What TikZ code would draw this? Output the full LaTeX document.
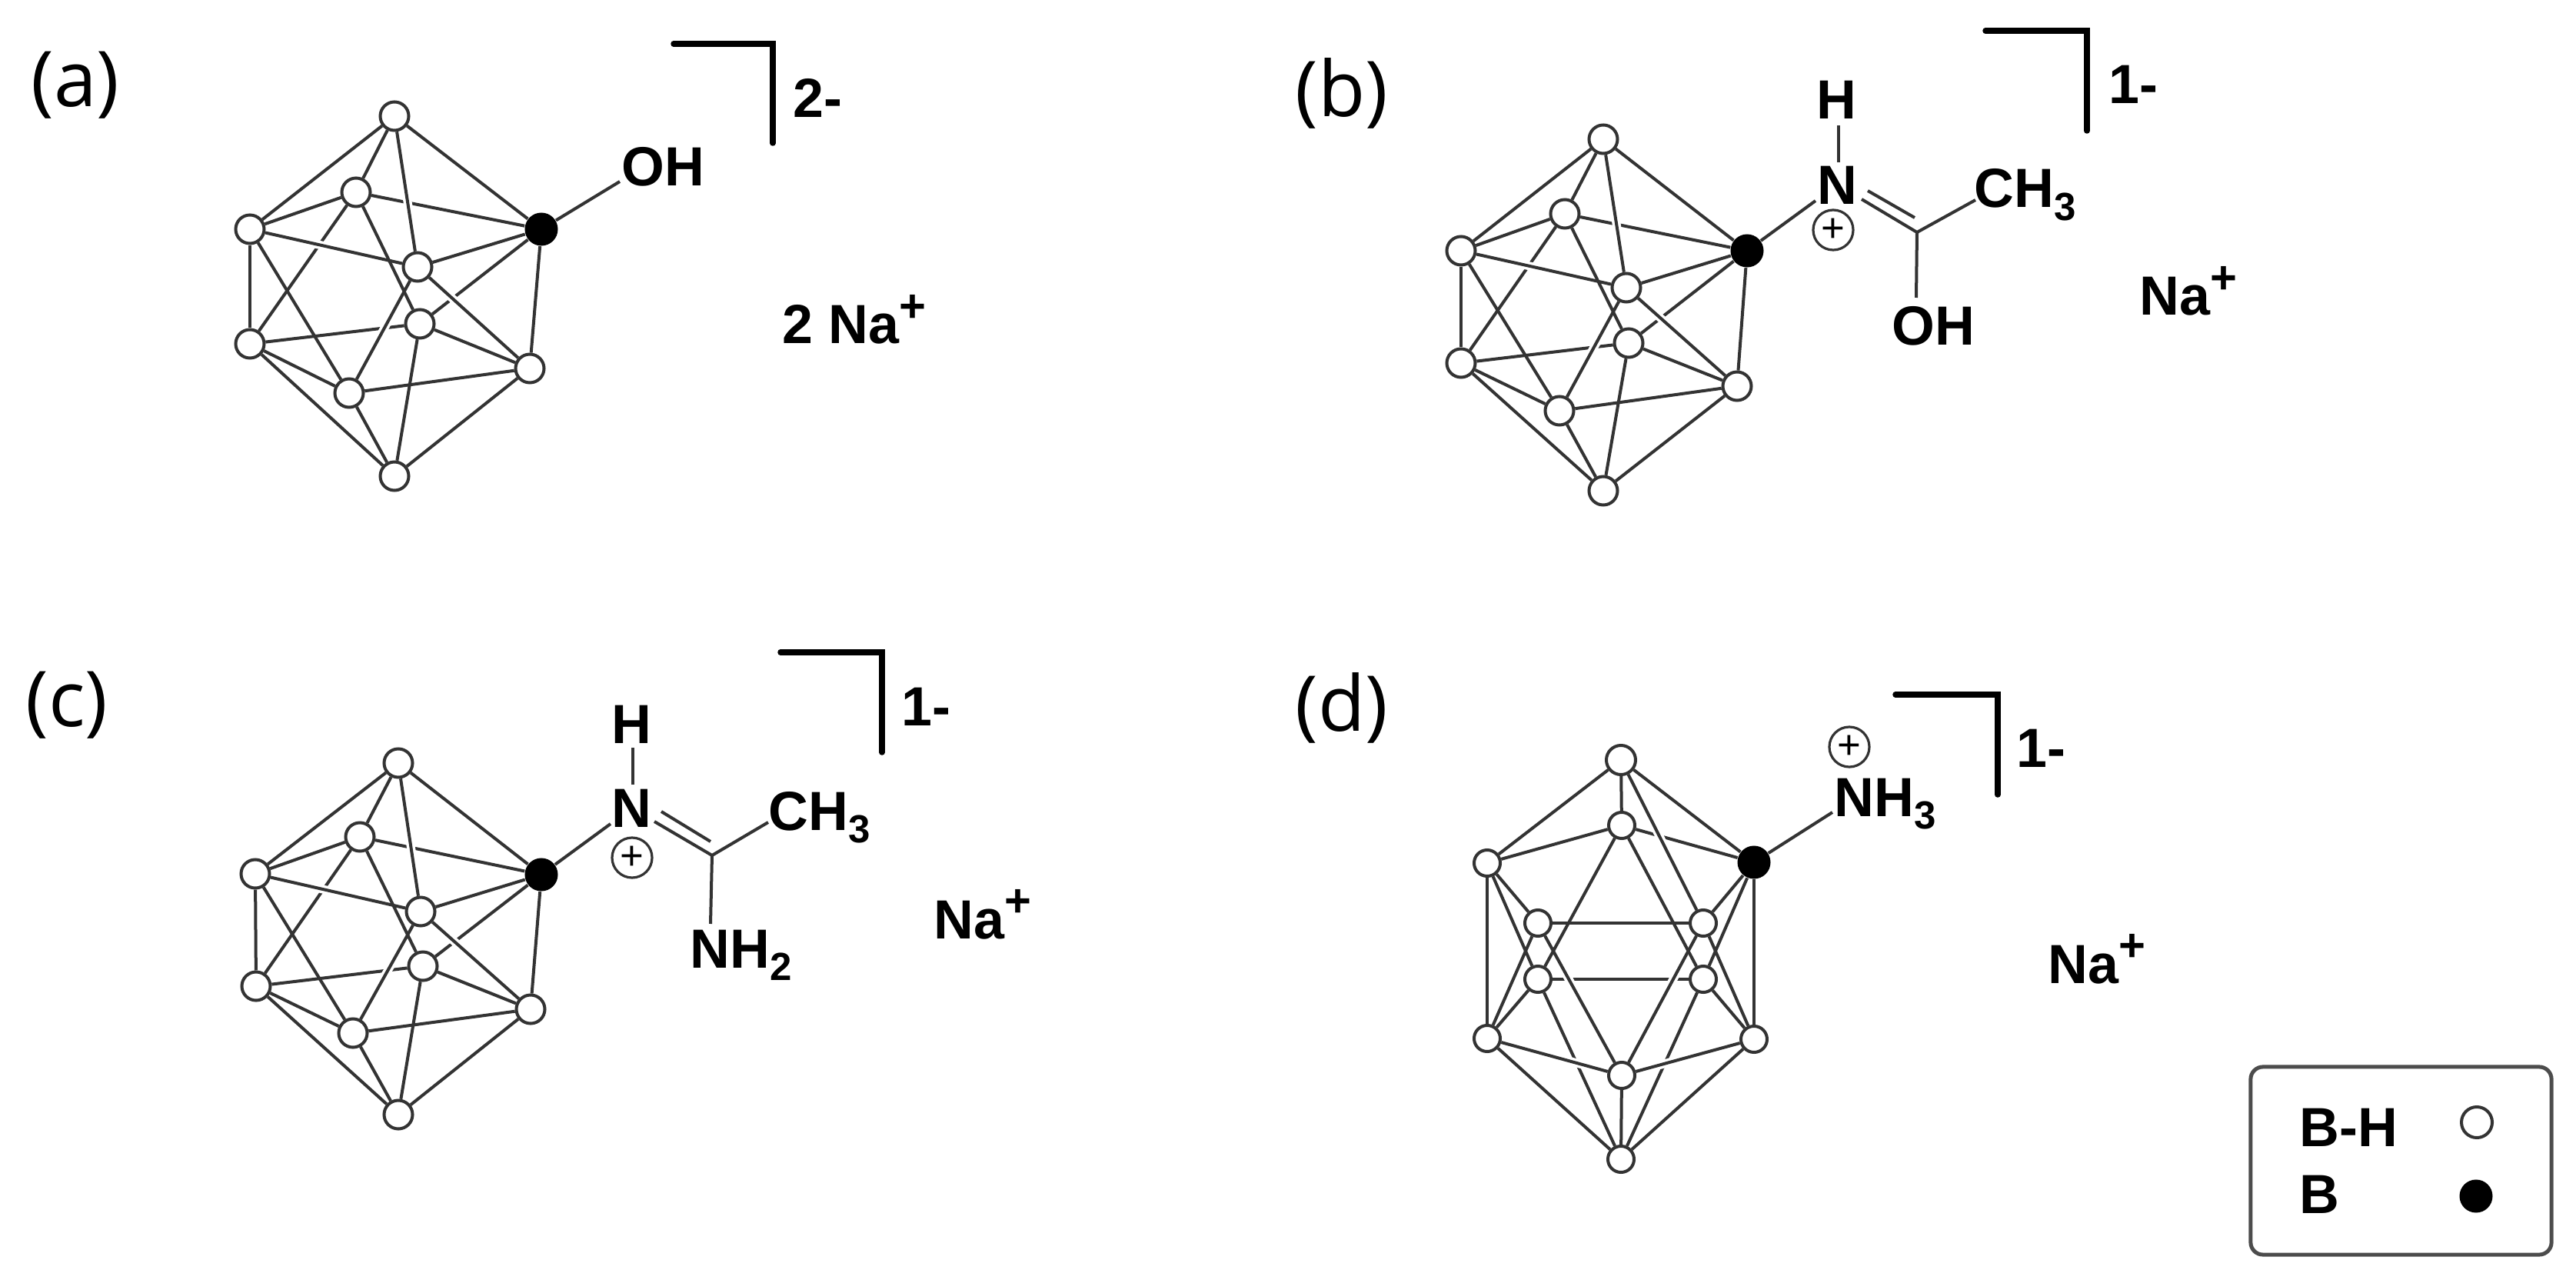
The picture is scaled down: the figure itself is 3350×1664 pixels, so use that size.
\documentclass[tikz,border=0pt]{standalone}
\usepackage{fontspec}
\setmainfont{Liberation Sans}
\newfontfamily\labfont{Open Sans}
\newcommand\chemfont{\fontsize{20.4}{23}\selectfont\bfseries}
\newcommand\subnum[1]{\raisebox{-4.8pt}{\fontsize{14.5}{14.5}\selectfont #1}}
\newcommand\supplus{\raisebox{8pt}{\fontsize{17}{17}\selectfont +}}
\tikzset{
  vx/.style={circle,draw=black!80,fill=white,line width=.04cm,minimum size=.37cm,inner sep=0pt},
  bk/.style={circle,fill=black,minimum size=.43cm,inner sep=0pt},
  bond/.style={draw=black!80,line width=.04cm},
  halo/.style={draw=white,line width=.11cm,shorten >=.3cm,shorten <=.3cm},
  brk/.style={draw=black,line width=.075cm,line cap=round,line join=miter},
  chem/.style={inner sep=0pt,font=\chemfont,text=black,anchor=base west},
  chemc/.style={inner sep=0pt,font=\chemfont,text=black,anchor=base},
  lab/.style={inner sep=0pt,font=\labfont\fontsize{28.45}{30}\selectfont,text=black,anchor=base},
  pluscirc/.style={circle,draw=black!80,line width=.032cm,minimum size=.52cm,inner sep=0pt,font=\fontsize{15}{15}\selectfont},
}
\newcommand\cagetop[1]{%
  \foreach \p/\q in {T/L1,T/A,T/B,A/L1,A/B,A/L2,A/D,L1/L2,L1/E,D/B,D/L2,D/R2,D/Bot,B/R2,L2/E,L2/Bot,E/R2,E/Bot,R2/Bot}
    \draw[bond] (#1\p) -- (#1\q);
  \foreach \p/\q in {T/C,L1/C,C/B,C/E,C/R2}
    \draw[halo] (#1\p) -- (#1\q);
  \foreach \p/\q in {T/C,L1/C,C/B,C/E,C/R2}
    \draw[bond] (#1\p) -- (#1\q);
}
\begin{document}
\begin{tikzpicture}[x=0.01cm,y=-0.01cm]
\useasboundingbox (0,0) rectangle (3350,1664);
% ---------- (a)
\foreach \n/\x/\y in {T/513/151,A/463/250,L1/325/298,C/543/347,D/546/421,L2/325/447,R2/689/479,E/454/511,Bot/513/619}
  \node[vx] (a\n) at (\x,\y) {};
\node[bk] (aB) at (704,298) {};
\cagetop{a}
\coordinate (aOHb) at (806,236);
\draw[bond] (aB) -- (aOHb);
\node[chem] (aOH) at (808,242) {OH};
\coordinate (aK1) at (876,57); \coordinate (aK2) at (1005,57); \coordinate (aK3) at (1005,186);
\draw[brk] (aK1) -- (aK2) -- (aK3);
\node[chem] (aQ) at (1031,153) {2-};
\node[chem] (aNa) at (1017,447) {2 Na\supplus};
\node[lab] (la) at (98,139) {(a)};
% ---------- (b)
\foreach \n/\x/\y in {T/2085/181,A/2035/278,L1/1900/326,C/2115/374,D/2118/446,L2/1900/472,R2/2259/502,E/2028/534,Bot/2085/638}
  \node[vx] (b\n) at (\x,\y) {};
\node[bk] (bB) at (2272,326) {};
\cagetop{b}
\coordinate (bNw) at (2361,261); \coordinate (bNn) at (2391,211); \coordinate (bHs) at (2391,163);
\coordinate (bNe) at (2421,259); \coordinate (bJ) at (2493,302);
\coordinate (bNe2) at (2429,248); \coordinate (bJ2) at (2490,283);
\coordinate (bMe) at (2569,260); \coordinate (bOHn) at (2492,387);
\draw[bond] (bB) -- (bNw);
\draw[bond] (bNn) -- (bHs);
\draw[bond] (bNe) -- (bJ) -- (bMe);
\draw[bond] (bNe2) -- (bJ2);
\draw[bond] (bJ) -- (bOHn);
\node[chemc] (bH) at (2388,155) {H};
\node[chemc] (bN) at (2389,266) {N};
\node[pluscirc] (bP) at (2384,299) {+};
\node[chem] (bCH) at (2567,270) {CH\subnum{3}};
\node[chemc] (bOH) at (2514,449) {OH};
\coordinate (bK1) at (2582,40); \coordinate (bK2) at (2714,40); \coordinate (bK3) at (2714,170);
\draw[brk] (bK1) -- (bK2) -- (bK3);
\node[chem] (bQ) at (2742,135) {1-};
\node[chem] (bNa) at (2782,410) {Na\supplus};
\node[lab] (lb) at (1745,152) {(b)};
% ---------- (c)
\foreach \n/\x/\y in {T/518/992,A/468/1088,L1/332/1136,C/547/1185,D/550/1256,L2/333/1282,R2/690/1312,E/459/1343,Bot/518/1449}
  \node[vx] (c\n) at (\x,\y) {};
\node[bk] (cB) at (704,1137) {};
\cagetop{c}
\coordinate (cNw) at (794,1071); \coordinate (cNn) at (823,1020); \coordinate (cHs) at (823,972);
\coordinate (cNe) at (851,1068); \coordinate (cJ) at (926,1112);
\coordinate (cNe2) at (860,1055); \coordinate (cJ2) at (924,1094);
\coordinate (cMe) at (999,1069); \coordinate (cNHn) at (924,1201);
\draw[bond] (cB) -- (cNw);
\draw[bond] (cNn) -- (cHs);
\draw[bond] (cNe) -- (cJ) -- (cMe);
\draw[bond] (cNe2) -- (cJ2);
\draw[bond] (cJ) -- (cNHn);
\node[chemc] (cH) at (821,966) {H};
\node[chemc] (cN) at (821,1075) {N};
\node[pluscirc] (cP) at (822,1115) {+};
\node[chem] (cCH) at (999,1079) {CH\subnum{3}};
\node[chem] (cNH) at (897,1258) {NH\subnum{2}};
\coordinate (cK1) at (1015,848); \coordinate (cK2) at (1147,848); \coordinate (cK3) at (1147,978);
\draw[brk] (cK1) -- (cK2) -- (cK3);
\node[chem] (cQ) at (1172,943) {1-};
\node[chem] (cNa) at (1214,1220) {Na\supplus};
\node[lab] (lc) at (87,944) {(c)};
% ---------- (d)
\foreach \n/\x/\y in {A/2109/1073,L1/1934/1122,P/2000/1200,Q/2215/1200,R/2000/1273,S/2215/1273,L2/1934/1350,R2/2281/1351,E/2109/1398}
  \node[vx,minimum size=.34cm] (d\n) at (\x,\y) {};
\node[vx,minimum size=.38cm] (dT) at (2108,988) {};
\node[vx,minimum size=.34cm] (dBot) at (2108,1507) {};
\node[bk] (dB) at (2281,1121) {};
\foreach \p/\q in {A/B,A/R,A/S,L1/R,B/S,R/S,R/L2,S/R2,R/Bot,S/Bot}
  \draw[bond] (d\p) -- (d\q);
\foreach \p/\q in {T/Q,P/Q,P/L2,P/E,Q/E,Q/R2,L2/E,R2/E}
  \draw[halo] (d\p) -- (d\q);
\foreach \p/\q in {T/L1,T/A,T/Q,T/B,A/L1,L1/P,L1/L2,B/Q,B/R2,P/Q,P/L2,P/E,Q/E,Q/R2,L2/E,L2/Bot,R2/E,R2/Bot,E/Bot}
  \draw[bond] (d\p) -- (d\q);
\coordinate (dNw) at (2383,1056);
\draw[bond] (dB) -- (dNw);
\node[chem] (dNH) at (2385,1061) {NH\subnum{3}};
\node[pluscirc] (dP) at (2405,971) {+};
\coordinate (dK1) at (2465,903); \coordinate (dK2) at (2598,903); \coordinate (dK3) at (2598,1033);
\draw[brk] (dK1) -- (dK2) -- (dK3);
\node[chem] (dQ) at (2622,997) {1-};
\node[chem] (dNa) at (2663,1278) {Na\supplus};
\node[lab] (ld) at (1745,950) {(d)};
% ---------- legend
\node[draw=black!70,line width=.05cm,rounded corners=.16cm,minimum width=3.91cm,minimum height=2.44cm,inner sep=0pt] (leg) at (3122.5,1509) {};
\node[chem] (legH) at (2990,1490) {B-H};
\node[chem] (legB) at (2990,1577) {B};
\node[vx,minimum size=.4cm] (legW) at (3221,1459) {};
\node[bk] (legK) at (3220,1555) {};
\end{tikzpicture}
\end{document}
